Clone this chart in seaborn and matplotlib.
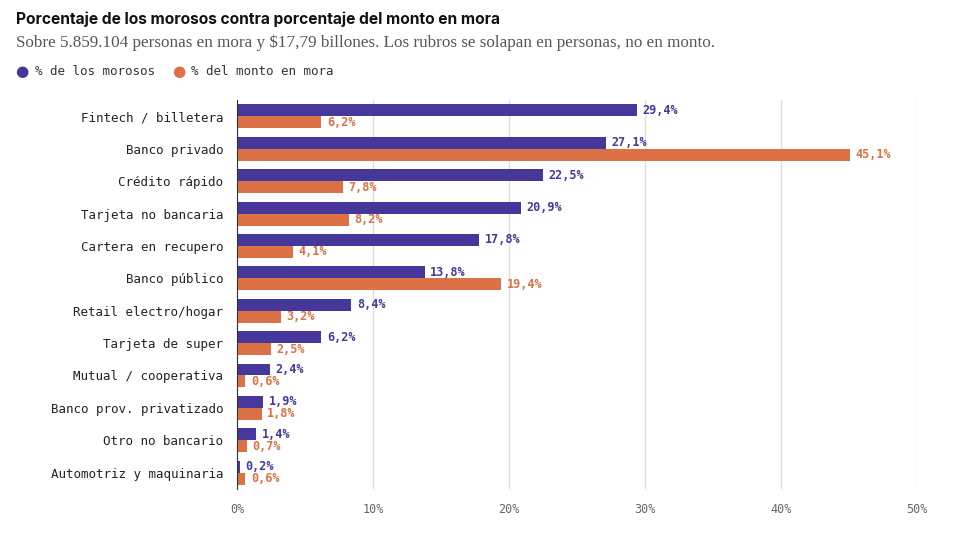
import pandas as pd
import matplotlib.pyplot as plt
import seaborn as sns

# Datos
rubros = ['Fintech / billetera', 'Banco privado', 'Crédito rápido', 'Tarjeta no bancaria',
          'Cartera en recupero', 'Banco público', 'Retail electro/hogar', 'Tarjeta de super',
          'Mutual / cooperativa', 'Banco prov. privatizado', 'Otro no bancario',
          'Automotriz y maquinaria']
pct_morosos = [29.4, 27.1, 22.5, 20.9, 17.8, 13.8, 8.4, 6.2, 2.4, 1.9, 1.4, 0.2]
pct_monto = [6.2, 45.1, 7.8, 8.2, 4.1, 19.4, 3.2, 2.5, 0.6, 1.8, 0.7, 0.6]
series = ['% de los morosos', '% del monto en mora']
colores = ['#45389a', '#db7144']

MONO = 'DejaVu Sans Mono'

df = pd.DataFrame({'rubro': rubros * 2,
                   'valor': pct_morosos + pct_monto,
                   'serie': [series[0]] * len(rubros) + [series[1]] * len(rubros)})

sns.set_style("white")
fig = plt.figure(figsize=(9.6, 5.36), dpi=100)
ax = fig.add_axes([0.247, 0.088, 0.708, 0.725])
sns.barplot(data=df, y='rubro', x='valor', hue='serie', palette=colores, ax=ax,
            width=0.74, orient='h', legend=False, saturation=1, linewidth=0)

for cont, col in zip(ax.containers, colores):
    ax.bar_label(cont, labels=[f'{v.get_width():.1f}%'.replace('.', ',') for v in cont],
                 padding=4, color=col, fontsize=8.5, family=MONO, fontweight='bold')

ax.set_xlim(0, 50)
ax.set_xticks(range(0, 51, 10))
ax.set_xticklabels([f'{t}%' for t in range(0, 51, 10)], family=MONO, fontsize=8.5, color='#666666')
ax.set_yticklabels(rubros, family=MONO, fontsize=9, color='#222222')
ax.set_xlabel('')
ax.set_ylabel('')
ax.grid(True, axis='x', color='#dddddd', linewidth=1)
ax.set_axisbelow(True)
for s in ['top', 'right', 'bottom']:
    ax.spines[s].set_visible(False)
ax.spines['left'].set_color('#333333')
ax.tick_params(axis='both', length=0, pad=10)

fig.text(0.017, 0.978, 'Porcentaje de los morosos contra porcentaje del monto en mora',
         fontsize=11.2, fontweight='bold', family='Inter', color='#111111', va='top')
fig.text(0.017, 0.935, 'Sobre 5.859.104 personas en mora y $17,79 billones. Los rubros se solapan en personas, no en monto.',
         fontsize=12.3, family='Liberation Serif', color='#555555', va='top')
for i, (lab, col) in enumerate(zip(series, colores)):
    x0 = 0.016 + i * 0.163
    fig.text(x0, 0.866, '●', fontsize=11, color=col, va='center', family='DejaVu Sans')
    fig.text(x0 + 0.02, 0.866, lab, fontsize=9, color='#333333', va='center', family=MONO)

fig.savefig('out.png', dpi=100)
plt.close()
